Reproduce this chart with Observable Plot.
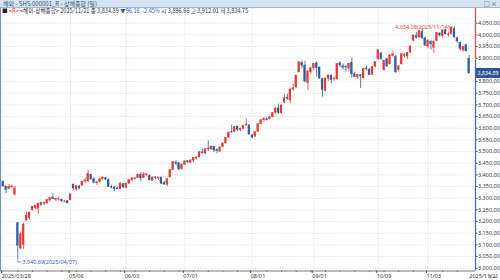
<!DOCTYPE html>
<html><head><meta charset="utf-8">
<script src="https://cdn.jsdelivr.net/npm/d3@7"></script>
<script src="https://cdn.jsdelivr.net/npm/@observablehq/plot@0.6"></script>
<style>
html,body{margin:0;padding:0;background:#fff;}
body{width:500px;height:280px;overflow:hidden;position:relative;font-family:"Noto Sans CJK KR","Noto Sans",sans-serif;}
#title{position:absolute;left:0;top:0;width:500px;height:7px;background:#d3e3f3;border-bottom:1px solid #9fbad6;font-size:6px;line-height:7px;color:#44546a;}
#title .t{position:absolute;left:3px;top:0;}
#title .ic{position:absolute;right:3px;top:0;color:#333;}
#info{position:absolute;left:2px;top:8px;font-size:5.6px;line-height:7px;color:#333;white-space:nowrap;z-index:2;}
#chart{position:absolute;left:0;top:8px;}
#lborder{position:absolute;left:0;top:8px;width:1px;height:263px;background:#6f8fbf;}
#pbox{position:absolute;left:476px;width:24px;height:10px;background:#2f5597;color:#fff;font-size:5.4px;line-height:10px;text-align:center;z-index:2;}
</style></head>
<body>
<div id="title"><span class="t">해외 - SHS:000001_R - 상해종합 (일)</span><span class="ic">□ ×</span></div>
<div id="info"><span style="color:#222">■</span> <span style="color:#d33">&lt;R&gt;</span> &lt;해외-상해종합&gt; 2025/11/21 종 3,834.89 <span style="color:#2f5aa8">▼96.16 &nbsp;-2.45%</span> 시 3,896.66 고 3,912.01 저 3,834.75</div>
<div id="chart"></div>
<div id="lborder"></div>
<div id="pbox"></div>
<script>
const dates = ["2025/03/28","2025/03/31","2025/04/01","2025/04/02","2025/04/03","2025/04/07","2025/04/08","2025/04/09","2025/04/10","2025/04/11",
"2025/04/14","2025/04/15","2025/04/16","2025/04/17","2025/04/18","2025/04/21","2025/04/22","2025/04/23","2025/04/24","2025/04/25",
"2025/04/28","2025/04/29","2025/04/30","2025/05/06","2025/05/07","2025/05/08","2025/05/09","2025/05/12","2025/05/13","2025/05/14",
"2025/05/15","2025/05/16","2025/05/19","2025/05/20","2025/05/21","2025/05/22","2025/05/23","2025/05/26","2025/05/27","2025/05/28",
"2025/05/29","2025/05/30","2025/06/03","2025/06/04","2025/06/05","2025/06/06","2025/06/09","2025/06/10","2025/06/11","2025/06/12",
"2025/06/13","2025/06/16","2025/06/17","2025/06/18","2025/06/19","2025/06/20","2025/06/23","2025/06/24","2025/06/25","2025/06/26",
"2025/06/27","2025/06/30","2025/07/01","2025/07/02","2025/07/03","2025/07/04","2025/07/07","2025/07/08","2025/07/09","2025/07/10",
"2025/07/11","2025/07/14","2025/07/15","2025/07/16","2025/07/17","2025/07/18","2025/07/21","2025/07/22","2025/07/23","2025/07/24",
"2025/07/25","2025/07/28","2025/07/29","2025/07/30","2025/07/31","2025/08/01","2025/08/04","2025/08/05","2025/08/06","2025/08/07",
"2025/08/08","2025/08/11","2025/08/12","2025/08/13","2025/08/14","2025/08/15","2025/08/18","2025/08/19","2025/08/20","2025/08/21",
"2025/08/22","2025/08/25","2025/08/26","2025/08/27","2025/08/28","2025/08/29","2025/09/01","2025/09/02","2025/09/03","2025/09/04",
"2025/09/05","2025/09/08","2025/09/09","2025/09/10","2025/09/11","2025/09/12","2025/09/15","2025/09/16","2025/09/17","2025/09/18",
"2025/09/19","2025/09/22","2025/09/23","2025/09/24","2025/09/25","2025/09/26","2025/09/29","2025/09/30","2025/10/09","2025/10/10",
"2025/10/13","2025/10/14","2025/10/15","2025/10/16","2025/10/17","2025/10/20","2025/10/21","2025/10/22","2025/10/23","2025/10/24",
"2025/10/27","2025/10/28","2025/10/29","2025/10/30","2025/10/31","2025/11/03","2025/11/04","2025/11/05","2025/11/06","2025/11/07",
"2025/11/10","2025/11/11","2025/11/12","2025/11/13","2025/11/14","2025/11/17","2025/11/18","2025/11/19","2025/11/20","2025/11/21"];
const open = [3369,3349,3340,3346,3316,3193,3085,3100,3205,3215,
3250,3258,3255,3270,3278,3277,3290,3302,3293,3294,
3292,3285,3287,3292,3358,3338,3350,3355,3372,3372,
3400,3381,3365,3370,3382,3385,3378,3348,3345,3341,
3340,3360,3345,3362,3378,3383,3387,3400,3386,3400,
3395,3375,3389,3386,3388,3365,3358,3390,3420,3452,
3450,3425,3444,3458,3452,3461,3470,3475,3496,3492,
3512,3510,3520,3506,3500,3520,3535,3560,3583,3585,
3606,3593,3597,3612,3612,3568,3565,3585,3618,3635,
3637,3640,3648,3666,3685,3665,3710,3730,3720,3767,
3775,3840,3880,3868,3795,3840,3858,3878,3860,3810,
3760,3813,3825,3810,3810,3878,3865,3863,3856,3880,
3831,3818,3826,3815,3855,3850,3830,3865,3897,3920,
3850,3895,3875,3910,3905,3850,3875,3910,3908,3925,
3975,3995,3990,4012,3985,3950,3970,3945,3975,4005,
3995,4020,4000,4005,4025,3985,3965,3935,3955,3896.66];
const high = [3375,3352,3358,3355,3351,3194,3155,3194,3240,3239,
3263,3270,3279,3282,3283,3295,3300,3318,3300,3305,
3296,3292,3290,3317,3358,3353,3354,3371,3386,3420,
3403,3388,3372,3384,3392,3390,3383,3355,3350,3348,
3365,3362,3365,3379,3387,3389,3405,3410,3410,3405,
3400,3391,3393,3391,3390,3372,3383,3421,3455,3460,
3453,3445,3462,3462,3465,3475,3477,3497,3510,3510,
3545,3525,3523,3512,3520,3536,3560,3582,3613,3605,
3608,3600,3610,3637,3614,3575,3585,3618,3635,3645,
3645,3650,3668,3688,3704,3700,3745,3746,3767,3788,
3826,3884,3888,3887,3845,3860,3876,3883,3862,3815,
3815,3826,3827,3820,3875,3885,3875,3870,3877,3900,
3840,3830,3830,3855,3866,3855,3864,3883,3936,3925,
3890,3900,3915,3930,3912,3868,3918,3920,3925,3952,
3999,4010,4016,4025,3990,3977,3975,3975,4010,4010,
4020,4025,4012,4030,4034.08,3990,3970,3950,3960,3912.01];
const low = [3346,3320,3337,3343,3309,3040.69,3079,3080,3201,3206,
3245,3250,3230,3265,3268,3275,3285,3294,3285,3289,
3280,3280,3275,3290,3333,3330,3336,3350,3364,3366,
3378,3361,3355,3365,3377,3375,3346,3340,3330,3335,
3338,3340,3340,3360,3372,3378,3385,3370,3385,3393,
3374,3372,3380,3375,3360,3355,3350,3388,3420,3440,
3418,3420,3440,3448,3448,3452,3465,3473,3490,3488,
3500,3505,3495,3490,3495,3515,3533,3555,3580,3580,
3585,3585,3593,3608,3570,3555,3560,3584,3615,3625,
3630,3635,3645,3660,3660,3660,3705,3720,3705,3758,
3770,3838,3855,3795,3762,3830,3845,3820,3810,3733,
3757,3800,3790,3800,3805,3860,3850,3840,3840,3815,
3815,3810,3770,3810,3845,3826,3825,3860,3890,3890,
3845,3862,3870,3905,3835,3840,3870,3900,3895,3920,
3970,3982,3985,3980,3950,3940,3935,3920,3970,3990,
3985,4000,3990,4000,3985,3965,3930,3925,3925,3834.75];
const close = [3351,3336,3348,3350,3342,3096.58,3145,3186,3224,3238,
3263,3268,3276,3280,3277,3292,3300,3296,3297,3295,
3288,3286,3279,3316,3343,3352,3342,3370,3375,3404,
3381,3367,3368,3381,3388,3380,3348,3346,3340,3339,
3363,3347,3361,3377,3384,3385,3399,3385,3402,3403,
3377,3388,3387,3388,3362,3359,3381,3420,3455,3448,
3424,3444,3457,3454,3461,3473,3474,3497,3493,3509,
3510,3520,3505,3503,3517,3534,3559,3581,3582,3605,
3593,3597,3609,3615,3573,3560,3583,3617,3634,3639,
3635,3647,3665,3683,3666,3697,3728,3727,3766,3771,
3825,3883,3868,3800,3843,3857,3875,3858,3813,3765,
3812,3826,3807,3812,3875,3870,3860,3861,3876,3831,
3820,3828,3822,3853,3853,3828,3862,3883,3934,3897,
3889,3865,3912,3916,3840,3864,3917,3914,3922,3950,
3997,3988,4016,3987,3955,3976,3961,3969,4008,3998,
4019,4003,4001,4029,3990,3972,3940,3947,3931.05,3834.89];
const dateTicks = ["2025/03/28","2025/05/06","2025/06/03","2025/07/01","2025/08/01","2025/09/01","2025/10/09","2025/11/03"];
const yTicks = d3.range(3000, 4051, 50);

const up = "#e23b33", dn = "#2f5ba8";
const data = dates.map((d, i) => ({i, date: d, open: open[i], high: high[i], low: low[i], close: close[i]}));
const col = d => d.close >= d.open ? up : dn;
const tickIdx = dateTicks.map(t => dates.indexOf(t));
const minorIdx = d3.range(0, dates.length, 5).filter(i => !tickIdx.includes(i));
const hi = data.reduce((a, b) => b.high > a.high ? b : a);
const lo = data.reduce((a, b) => b.low < a.low ? b : a);
const last = data[data.length - 1];
const f2 = d3.format(",.2f");
const xDom = [-0.9, 161.2];
const yDom = [2988, 4113];

const plot = Plot.plot({
  width: 500, height: 272,
  marginLeft: 0, marginRight: 25, marginTop: 0, marginBottom: 9.5,
  style: {fontFamily: "'Noto Sans', sans-serif", fontSize: "5.5px", color: "#333", background: "transparent"},
  x: {type: "linear", domain: xDom, axis: null},
  y: {type: "linear", domain: yDom, axis: null},
  marks: [
    Plot.ruleY(yTicks, {stroke: "#c8c8c8", strokeDasharray: "1,1.5", strokeWidth: 0.6}),
    Plot.ruleX(tickIdx.slice(1), {stroke: "#c8c8c8", strokeDasharray: "1,1.5", strokeWidth: 0.6}),
    Plot.ruleX(data, {x: "i", y1: "low", y2: "high", stroke: col, strokeWidth: 0.8}),
    Plot.rect(data, {x1: d => d.i - 0.37, x2: d => d.i + 0.37, y1: "open", y2: "close", fill: col, insetTop: -0.4, insetBottom: -0.4}),
    // bottom axis line & ticks
    Plot.ruleY([yDom[0]], {stroke: "#555", strokeWidth: 0.8}),
    Plot.axisX(tickIdx, {anchor: "bottom", tickSize: 2.5, tickPadding: 0.5, textAnchor: "start", dx: -1.5,
      tickFormat: i => i === 0 ? dates[i] : dates[i].slice(5), fontSize: 5.5, stroke: "#555", fill: "#333"}),
    Plot.axisX(minorIdx, {anchor: "bottom", tickSize: 1.5, tickFormat: () => "", stroke: "#777"}),
    // right axis
    Plot.ruleX([{y1: yDom[0], y2: last.open}], {x: () => xDom[1], y1: "y1", y2: "y2", stroke: "#4a6fb0", strokeWidth: 1.3}),
    Plot.ruleX([{y1: last.open, y2: yDom[1]}], {x: () => xDom[1], y1: "y1", y2: "y2", stroke: "#d9544d", strokeWidth: 1.3}),
    Plot.axisY(yTicks.filter(v => Math.abs(v - last.close) > 20), {anchor: "right", tickSize: 1.5, tickPadding: 1, tickFormat: f2, fontSize: 5.5, fill: "#333", stroke: "#555"}),
    Plot.text([dates[dates.length - 1]], {frameAnchor: "bottom-right", dx: 23, dy: 7, textAnchor: "end", fontSize: 5.5, fill: "#333"}),
    // annotations
    Plot.text([hi], {x: "i", y: "high", text: d => `${f2(d.high)}(${d.date})`, textAnchor: "end", dx: -5, dy: 0.5, fill: "#d9473f", fontSize: 5.5}),
    Plot.ruleY([hi], {y: "high", x1: d => d.i - 1.6, x2: d => d.i - 0.2, stroke: "#d9473f", strokeWidth: 0.6}),
    Plot.line([[lo.i, lo.low], [lo.i, lo.low - 14], [lo.i + 1.2, lo.low - 14]], {stroke: "#3a62a8", strokeWidth: 0.6}),
    Plot.text([lo], {x: "i", y: "low", text: d => `${f2(d.low)}(${d.date})`, textAnchor: "start", dx: 4.5, dy: 3.3, fill: "#3a62a8", fontSize: 5.5})
  ]
});
document.getElementById("chart").appendChild(plot);
const yPos = plot.scale("y").apply(last.close);
const box = document.getElementById("pbox");
box.textContent = f2(last.close);
box.style.top = (8 + yPos - 5) + "px";
</script>
</body></html>
